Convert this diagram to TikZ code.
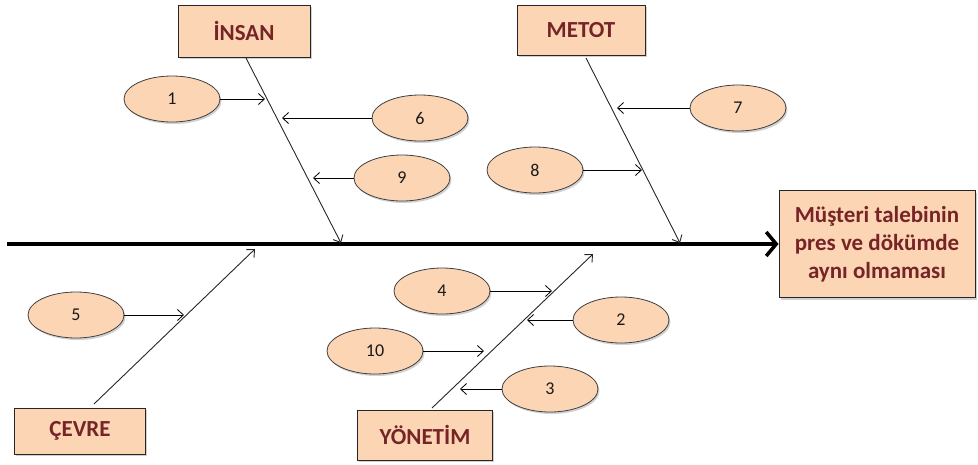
\documentclass[tikz,border=0pt]{standalone}
\usepackage{fontspec}
\setmainfont{Carlito}
\usetikzlibrary{arrows.meta,shapes.geometric,shadows}
\definecolor{peach}{HTML}{FCD5B5}
\definecolor{txtred}{HTML}{772427}
\begin{document}
\begin{tikzpicture}[x=1pt,y=-1pt,
  softshadow/.style={drop shadow={shadow xshift=1.5pt,shadow yshift=-2pt,opacity=0.3,fill=black!60}},
  catbox/.style={draw=black!85, fill=peach, line width=1pt, font=\fontsize{23}{28}\selectfont\bfseries, text=txtred, softshadow},
  cause/.style={ellipse, draw=black!75, fill=peach, line width=0.8pt, minimum width=96pt, minimum height=46pt, inner sep=0pt, font=\fontsize{18}{21}\selectfont, text=black!90, softshadow},
  bone/.style={draw=black!85, line width=0.9pt, -{Straight Barb[length=6pt,width=11pt]}},
  sub/.style={draw=black, line width=0.8pt, -{Straight Barb[length=6pt,width=11pt]}}]
\useasboundingbox (0,0) rectangle (978,464);

% category boxes
\node[catbox, minimum width=132pt, minimum height=52pt] (insan) at (244,31) {İNSAN};
\node[catbox, minimum width=128pt, minimum height=50pt] (metot) at (581,30) {METOT};
\node[catbox, minimum width=131pt, minimum height=46pt] (cevre) at (80,431) {ÇEVRE};
\node[catbox, minimum width=135pt, minimum height=50pt] (yonetim) at (425,435) {YÖNETİM};
\node[catbox, minimum width=196pt, minimum height=107pt, align=center, font=\fontsize{23}{28}\selectfont\bfseries] (effect) at (877,244) {Müşteri talebinin\\pres ve dökümde\\aynı olmaması};

% spine
\coordinate (tail) at (7,244);
\draw[line width=4pt, -{Straight Barb[length=10pt,width=24pt,line width=3.5pt]}] (tail) -- (effect.west);

% bones
\coordinate (iStart) at (246,58);
\coordinate (iEnd) at (341,243);
\coordinate (mStart) at (586,58);
\coordinate (mEnd) at (680,243);
\coordinate (cStart) at (94,404);
\coordinate (cEnd) at (255,249);
\coordinate (yStart) at (432,408);
\coordinate (yEnd) at (593,254);
\draw[bone] (iStart) -- (iEnd);
\draw[bone] (mStart) -- (mEnd);
\draw[bone] (cStart) -- (cEnd);
\draw[bone] (yStart) -- (yEnd);

% causes
\node[cause] (n1) at (172,99) {1};
\node[cause] (n6) at (420,118) {6};
\node[cause] (n9) at (402,178) {9};
\node[cause] (n7) at (738,108) {7};
\node[cause] (n8) at (535,170) {8};
\node[cause] (n5) at (76,315) {5};
\node[cause] (n4) at (442,291) {4};
\node[cause] (n2) at (621,320) {2};
\node[cause] (n10) at (375,351) {10};
\node[cause] (n3) at (550,389) {3};

% arrow tips on the bones
\coordinate (t1) at (265,0);
\coordinate (t6) at (282,0);
\coordinate (t9) at (313,0);
\coordinate (t7) at (617,0);
\coordinate (t8) at (642,0);
\coordinate (t5) at (184,0);
\coordinate (t4) at (552,0);
\coordinate (t2) at (527,0);
\coordinate (t10) at (484,0);
\coordinate (t3) at (460,0);

\draw[sub] (n1.east) -- (n1.east -| t1);
\draw[sub] (n6.west) -- (n6.west -| t6);
\draw[sub] (n9.west) -- (n9.west -| t9);
\draw[sub] (n7.west) -- (n7.west -| t7);
\draw[sub] (n8.east) -- (n8.east -| t8);
\draw[sub] (n5.east) -- (n5.east -| t5);
\draw[sub] (n4.east) -- (n4.east -| t4);
\draw[sub] (n2.west) -- (n2.west -| t2);
\draw[sub] (n10.east) -- (n10.east -| t10);
\draw[sub] (n3.west) -- (n3.west -| t3);
\end{tikzpicture}
\end{document}
